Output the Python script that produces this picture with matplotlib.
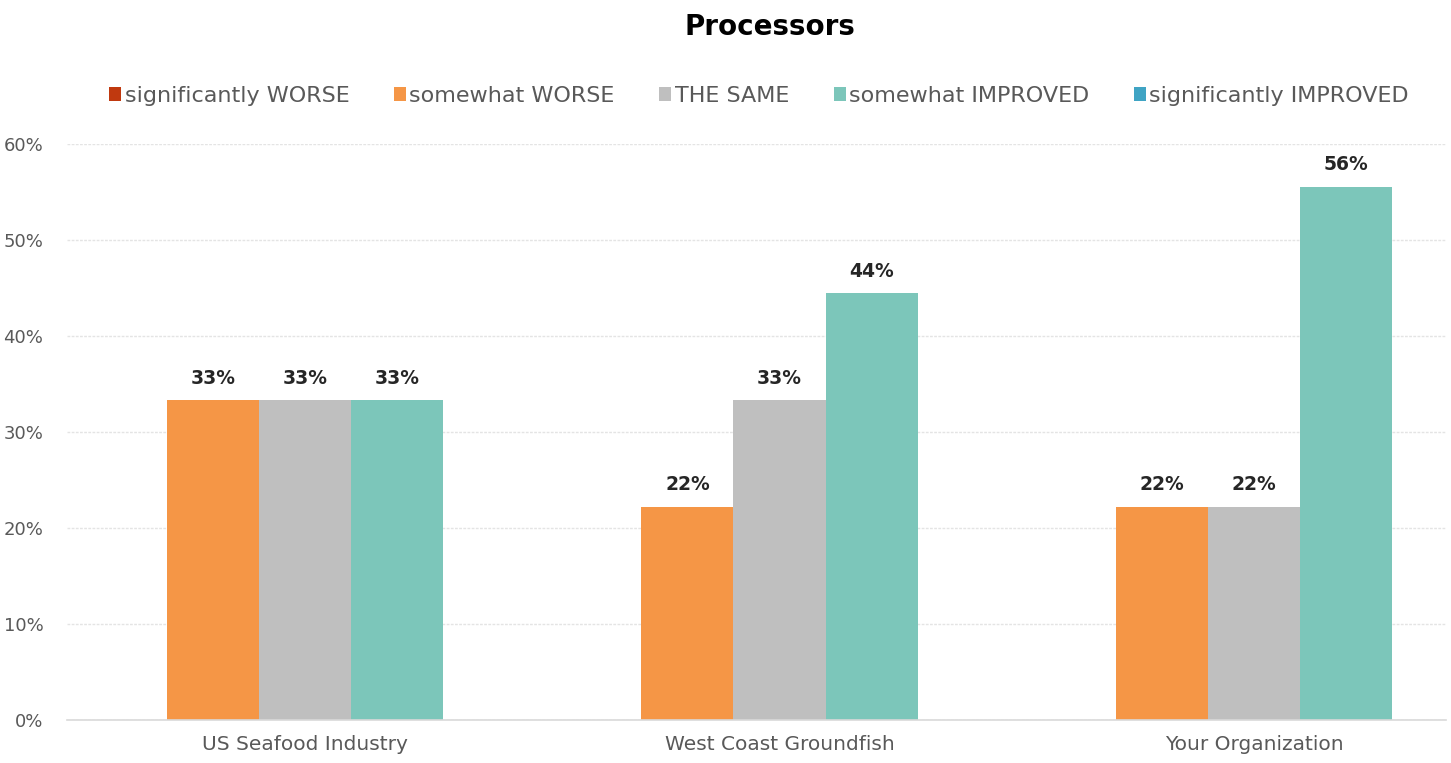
import matplotlib
matplotlib.use("Agg")
import matplotlib.pyplot as plt
from matplotlib.patches import Patch
import numpy as np

plt.rcParams['font.family'] = ['DejaVu Sans']

categories = ["US Seafood Industry", "West Coast Groundfish", "Your Organization"]
series_names = ["significantly WORSE", "somewhat WORSE", "THE SAME",
                "somewhat IMPROVED", "significantly IMPROVED"]
sig_worse = [0.0, 0.0, 0.0]
some_worse = [33.33, 22.22, 22.22]
same = [33.33, 33.33, 22.22]
some_improved = [33.33, 44.44, 55.56]
sig_improved = [0.0, 0.0, 0.0]
series_values = [sig_worse, some_worse, same, some_improved, sig_improved]
colors = ["#C0390F", "#F59646", "#BFBFBF", "#7CC6BA", "#3FA4C4"]
yticks = [0, 10, 20, 30, 40, 50, 60]

fig = plt.figure(figsize=(14.51, 7.63), dpi=100)
ax = fig.add_axes([67 / 1451, 43 / 763, (1446 - 67) / 1451, 576 / 763])

x = np.arange(len(categories))
w = 0.194
for k, (vals, col) in enumerate(zip(series_values, colors)):
    pos = x + (k - 2) * w
    ax.bar(pos, vals, width=w, color=col, linewidth=0, zorder=2)
    for p, v in zip(pos, vals):
        if v > 0:
            ax.text(p, v + 1.3, f"{v:.0f}%", ha="center", va="bottom",
                    fontsize=13.5, fontweight="bold", color="#262626", zorder=3)

ax.set_xlim(-0.501, 2.404)
ax.set_ylim(0, 60)
ax.set_yticks(yticks)
ax.set_yticklabels([f"{t}%" for t in yticks])
ax.set_xticks(x)
ax.set_xticklabels(categories)
ax.tick_params(axis="both", length=0, colors="#595959", labelsize=13)
ax.tick_params(axis="x", pad=11, labelsize=14.5)
ax.tick_params(axis="y", pad=17)
ax.yaxis.grid(True, color="#E4E4E4", linewidth=1, linestyle=(0, (2, 1)), zorder=0)
ax.set_axisbelow(True)
for s in ["top", "right", "left"]:
    ax.spines[s].set_visible(False)
ax.spines["bottom"].set_color("#D9D9D9")
ax.spines["bottom"].set_linewidth(1.2)

handles = [Patch(facecolor=c, edgecolor="none") for c in colors]
fig.legend(handles, series_names, loc="center", bbox_to_anchor=(759 / 1451, 1 - 96 / 763),
           ncol=5, frameon=False, fontsize=16, handlelength=0.55, handleheight=0.6,
           handletextpad=0.15, columnspacing=2.0, labelcolor="#595959")

fig.text(770 / 1451, 1 - 27 / 763, "Processors", ha="center", va="center",
         fontsize=20, fontweight="bold", color="#000000")

fig.savefig("out.png", dpi=100, facecolor="white")
